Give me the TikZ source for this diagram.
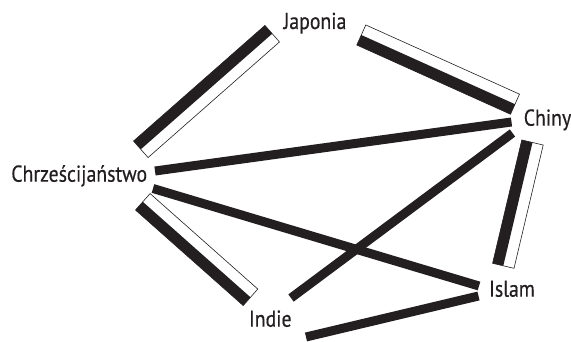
\documentclass[tikz,border=0pt]{standalone}
\usepackage{fontspec}
\setmainfont[FakeStretch=0.86, FakeBold=0.4]{PT Sans}
\usetikzlibrary{calc}

\definecolor{ink}{HTML}{231F20}

\tikzset{
	country/.style={anchor=base, inner sep=0pt, text=ink, font=\fontsize{23}{25}\selectfont},
	blackbar/.style={draw=ink, line width=9pt, line cap=butt},
	halfbar/.style={draw=ink, line width=0.6pt, line join=miter, fill=white},
}

% two-tone link: white half on the left of #1 -> #2, black half on the right
\newcommand\twinbar[2]{%
	\filldraw[halfbar] ($(#1)!11pt!90:(#2)$) -- ($(#2)!11pt!-90:(#1)$) -- ($(#2)!11pt!90:(#1)$) -- ($(#1)!11pt!-90:(#2)$) -- cycle;
	\draw[blackbar, line width=11pt] ($(#1)!5.5pt!-90:(#2)$) -- ($(#2)!5.5pt!90:(#1)$);
}

\begin{document}
\begin{tikzpicture}[x=1pt, y=-1pt]
	\useasboundingbox (0,0) rectangle (571,342);

	\node[country] (japonia) at (315,29) {Japonia};
	\node[country] (chiny) at (547.5,125.7) {Chiny};
	\node[country] (chrzesc) at (79.2,181.7) {Chrześcijaństwo};
	\node[country] (islam) at (512,296.7) {Islam};
	\node[country] (indie) at (270.3,326.7) {Indie};

	% bar ends next to each label
	\coordinate (jap-chr) at (272.2,33.7);
	\coordinate (jap-chi) at (361.3,35);
	\coordinate (chi-jap) at (515,104.2);
	\coordinate (chi-chr) at (511.5,122);
	\coordinate (chi-ind) at (512.5,133);
	\coordinate (chi-isl) at (532.5,142.5);
	\coordinate (chr-jap) at (140.8,149.3);
	\coordinate (chr-chi) at (155,171);
	\coordinate (chr-isl) at (153,188.5);
	\coordinate (chr-ind) at (142.8,201.8);
	\coordinate (isl-chi) at (503.3,265.8);
	\coordinate (isl-chr) at (479,286);
	\coordinate (isl-ind) at (478.5,296);
	\coordinate (ind-chr) at (250.5,297.3);
	\coordinate (ind-chi) at (291,298);
	\coordinate (ind-isl) at (306,337);

	\twinbar{jap-chr}{chr-jap}
	\twinbar{jap-chi}{chi-jap}
	\twinbar{chi-isl}{isl-chi}
	\twinbar{chr-ind}{ind-chr}

	\draw[blackbar] (chr-chi) -- (chi-chr);
	\draw[blackbar] (chr-isl) -- (isl-chr);
	\draw[blackbar] (chi-ind) -- (ind-chi);
	\draw[blackbar] (isl-ind) -- (ind-isl);
\end{tikzpicture}
\end{document}
